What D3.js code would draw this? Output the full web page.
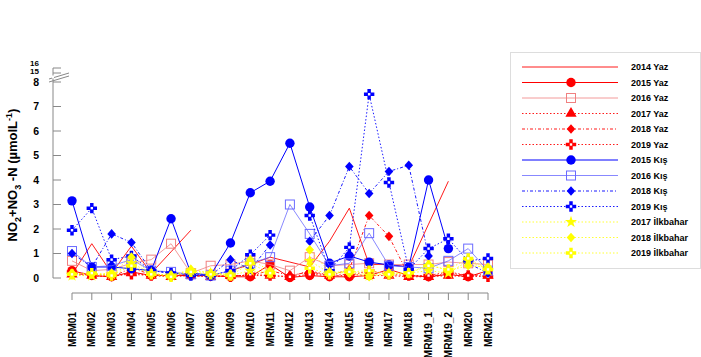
<!DOCTYPE html>
<html><head><meta charset="utf-8">
<script src="https://cdn.jsdelivr.net/npm/d3@7"></script>
<style>body{margin:0;background:#fff}svg{display:block;font-family:"Liberation Sans",Arial,sans-serif}</style>
</head><body><svg id="c" width="701" height="357"></svg>
<script>
const stations = ["MRM01","MRM02","MRM03","MRM04","MRM05","MRM06","MRM07","MRM08","MRM09","MRM10","MRM11","MRM12","MRM13","MRM14","MRM15","MRM16","MRM17","MRM18","MRM19_1","MRM19_2","MRM20","MRM21"];
const yTicks = [0,1,2,3,4,5,6,7,8];
const yBreakTicks = ["15","16"];
const seriesNames = ["2014 Yaz","2015 Yaz","2016 Yaz","2017 Yaz","2018 Yaz","2019 Yaz","2015 Kış","2016 Kış","2018 Kış","2019 Kış","2017 İlkbahar","2018 İlkbahar","2019 İlkbahar"];
const yaz2014 = [0.15,1.4,0.2,1.3,0.2,1.07,1.95,null,0.3,0.55,0.85,0.65,0.45,1.5,2.85,0.55,0.55,0.45,2.2,3.95,null,null];
const yaz2015 = [0.3,0.1,0.05,0.25,0.1,0.1,0.1,0.1,0.05,0.05,0.55,0.02,0.1,0.05,0.05,0.1,0.35,0.1,0.05,0.15,0.05,0.3];
const yaz2016 = [0.7,0.3,0.35,0.6,0.75,1.4,0.2,0.5,0.55,0.7,0.55,0.3,0.85,0.5,0.55,0.6,0.55,0.55,0.55,0.65,0.6,0.55];
const yaz2017 = [0.15,0.1,0.05,0.2,0.1,0.05,0.1,0.05,0.1,0.1,0.1,0.05,0.3,0.1,0.15,0.1,0.1,0.05,0.05,0.1,0.05,0.1];
const yaz2018 = [0.2,0.1,0.05,0.4,0.15,0.1,0.1,0.05,0.1,0.1,0.3,0.1,0.25,0.1,0.35,2.55,1.7,0.1,0.05,0.2,0.1,0.15];
const yaz2019 = [0.25,0.15,0.1,0.15,0.1,0.1,0.15,0.1,0.05,0.15,0.1,0.05,0.15,0.1,0.1,0.3,0.15,0.1,0.1,0.25,0.1,0.05];
const kis2015 = [3.15,0.45,0.45,0.38,0.3,2.42,0.2,0.12,1.43,3.48,3.95,5.5,2.9,0.6,0.9,0.65,0.53,0.45,4.0,1.2,null,null];
const kis2016 = [1.1,0.45,0.5,0.75,0.3,0.25,0.15,0.1,0.3,0.6,0.85,3.0,1.8,0.5,0.6,1.83,0.5,0.45,0.4,0.7,1.2,0.3];
const kis2018 = [1.0,0.45,1.8,1.45,0.3,0.2,0.15,0.1,0.75,0.35,1.35,null,1.5,2.55,4.55,3.45,4.35,4.6,0.9,null,0.6,0.2];
const kis2019 = [1.95,2.85,0.75,0.9,0.3,0.2,0.1,0.1,0.3,0.95,1.75,null,2.55,0.3,1.25,7.5,3.9,0.35,1.2,1.6,0.7,0.8];
const ilk2017 = [0.1,0.1,0.15,0.6,0.2,0.1,0.3,0.2,0.1,0.3,0.2,null,0.7,0.2,0.3,0.1,0.2,0.2,0.3,0.2,0.7,0.3];
const ilk2018 = [0.2,0.15,0.2,0.85,0.15,0.1,0.35,0.2,0.15,0.75,0.3,null,1.15,0.25,0.2,0.05,0.2,0.2,0.55,0.3,0.5,0.45];
const ilk2019 = [0.15,0.2,0.1,0.5,0.15,0.05,0.25,0.15,0.1,0.6,0.2,null,0.4,0.15,0.25,0.3,0.15,0.2,0.5,0.35,0.8,0.35];

const seriesValues = [yaz2014,yaz2015,yaz2016,yaz2017,yaz2018,yaz2019,kis2015,kis2016,kis2018,kis2019,ilk2017,ilk2018,ilk2019];
const styles = [
  {c:"#ff0000",w:0.9,dash:null,m:"none"},
  {c:"#ff0000",w:1,dash:null,m:"circle"},
  {c:"#f08080",w:0.8,dash:null,m:"square"},
  {c:"#ff0000",w:0.9,dash:"1.5,2",m:"triangle"},
  {c:"#ff0000",w:0.9,dash:"3,2,1,2",m:"diamond"},
  {c:"#ff0000",w:0.9,dash:"1.5,2",m:"plus"},
  {c:"#0000ff",w:1,dash:null,m:"circle"},
  {c:"#6a6aff",w:0.8,dash:null,m:"square"},
  {c:"#0000ff",w:0.9,dash:"3,2,1,2",m:"diamond"},
  {c:"#0000ff",w:0.9,dash:"1.5,2",m:"plus"},
  {c:"#ffff00",w:0.8,dash:"1.5,2",m:"star"},
  {c:"#ffff00",w:0.8,dash:"1.5,2",m:"diamond"},
  {c:"#ffff00",w:0.8,dash:"1.5,2",m:"plus"}
];

const svg = d3.select("#c");
const x = d3.scalePoint().domain(stations).range([72,488]);
const y = d3.scaleLinear().domain([0,8]).range([278,82]);

// y axis
const yAxisG = svg.append("g").attr("transform","translate(53,0)");
yAxisG.append("line").attr("x1",0).attr("x2",0).attr("y1",68).attr("y2",278).attr("stroke","#888").attr("stroke-width",1);
yAxisG.selectAll(".yt").data(yTicks).join("line").attr("x1",0).attr("x2",8).attr("y1",d=>y(d)).attr("y2",d=>y(d)).attr("stroke","#888");
yAxisG.selectAll(".yl").data(yTicks).join("text").attr("x",-14).attr("y",d=>y(d)).attr("dy","0.35em").attr("text-anchor","end").attr("font-size",10.5).attr("font-weight","bold").text(d=>d);
const breakY = [68,73];
yAxisG.selectAll(".bt").data(breakY).join("line").attr("x1",0).attr("x2",8).attr("y1",d=>d).attr("y2",d=>d).attr("stroke","#888");
yAxisG.selectAll(".bl").data(yBreakTicks).join("text").attr("x",-14).attr("y",(d,i)=>[71,63.5][i]).attr("dy","0.35em").attr("text-anchor","end").attr("font-size",8).attr("font-weight","bold").text(d=>d);
// break marks
yAxisG.append("line").attr("x1",-4).attr("x2",16).attr("y1",79).attr("y2",73).attr("stroke","#888");
yAxisG.append("line").attr("x1",-4).attr("x2",16).attr("y1",82).attr("y2",76).attr("stroke","#888");
yAxisG.append("rect").attr("x",-1).attr("y",75.5).attr("width",2).attr("height",3).attr("fill","#fff");

// y title
const title = svg.append("text").attr("transform","translate(17,175) rotate(-90)").attr("text-anchor","middle").attr("font-size",13).attr("font-weight","bold");
title.append("tspan").text("NO");
title.append("tspan").attr("font-size",9).attr("dy",4).text("2");
title.append("tspan").attr("dy",-4).text("+NO");
title.append("tspan").attr("font-size",9).attr("dy",4).text("3");
title.append("tspan").attr("dy",-4).text(" -N (µmolL");
title.append("tspan").attr("font-size",9).attr("dy",-5).text("-1");
title.append("tspan").attr("dy",5).text(")");

// x axis
const xAxisG = svg.append("g");
xAxisG.append("line").attr("x1",x(stations[0])).attr("x2",x(stations[stations.length-1])).attr("y1",293).attr("y2",293).attr("stroke","#888");
xAxisG.selectAll(".xt").data(stations).join("line").attr("x1",d=>x(d)).attr("x2",d=>x(d)).attr("y1",293).attr("y2",300).attr("stroke","#888");
xAxisG.selectAll(".xl").data(stations).join("text").attr("transform",d=>`translate(${x(d)+3.5},312) rotate(-90)`).attr("text-anchor","end").attr("font-size",10).attr("font-weight","bold").text(d=>d);

function drawMarker(g, type, color, cx, cy, scale) {
  const s = scale || 1;
  if (type==="circle") g.append("circle").attr("cx",cx).attr("cy",cy).attr("r",4.7*s).attr("fill",color);
  else if (type==="square") g.append("rect").attr("x",cx-4.5*s).attr("y",cy-4.5*s).attr("width",9*s).attr("height",9*s).attr("fill","none").attr("stroke",color).attr("stroke-width",1);
  else if (type==="triangle") g.append("path").attr("d",d3.symbol(d3.symbolTriangle,55*s*s)()).attr("transform",`translate(${cx},${cy})`).attr("fill",color);
  else if (type==="diamond") g.append("path").attr("d",`M0,${-4.8*s}L${4.3*s},0L0,${4.8*s}L${-4.3*s},0Z`).attr("transform",`translate(${cx},${cy})`).attr("fill",color);
  else if (type==="star") g.append("path").attr("d",d3.symbol(d3.symbolStar,45*s*s)()).attr("transform",`translate(${cx},${cy})`).attr("fill",color);
  else if (type==="plus") {
    g.append("path").attr("d",d3.symbol(d3.symbolCross,60*s*s)()).attr("transform",`translate(${cx},${cy})`).attr("fill",color);
    g.append("rect").attr("x",cx-1.2*s).attr("y",cy-1.2*s).attr("width",2.4*s).attr("height",2.4*s).attr("fill","#fff");
  }
}

const plot = svg.append("g");
seriesValues.forEach((vals,si)=>{
  const st = styles[si];
  const pts = vals.map((v,i)=>({s:stations[i],v}));
  const line = d3.line().defined(d=>d.v!==null).x(d=>x(d.s)).y(d=>y(d.v));
  plot.append("path").attr("d",line(pts)).attr("fill","none").attr("stroke",st.c).attr("stroke-width",st.w).attr("stroke-dasharray",st.dash);
  if (st.m!=="none") {
    const mg = plot.append("g");
    pts.filter(d=>d.v!==null).forEach(d=>drawMarker(mg,st.m,st.c,x(d.s),y(d.v)));
  }
});

// legend
const leg = svg.append("g");
leg.append("rect").attr("x",510.5).attr("y",52.5).attr("width",190).attr("height",216).attr("fill","#fff").attr("stroke","#ddd");
const legY = d3.scaleLinear().domain([0,12]).range([67,253]);
seriesNames.forEach((name,i)=>{
  const st = styles[i];
  const yy = legY(i);
  leg.append("line").attr("x1",522).attr("x2",618).attr("y1",yy).attr("y2",yy).attr("stroke",st.c).attr("stroke-width",st.w).attr("stroke-dasharray",st.dash);
  if (st.m!=="none") drawMarker(leg,st.m,st.c,571,yy);
  leg.append("text").attr("x",631).attr("y",yy).attr("dy","0.35em").attr("font-size",9).attr("font-weight","bold").text(name);
});
</script></body></html>
